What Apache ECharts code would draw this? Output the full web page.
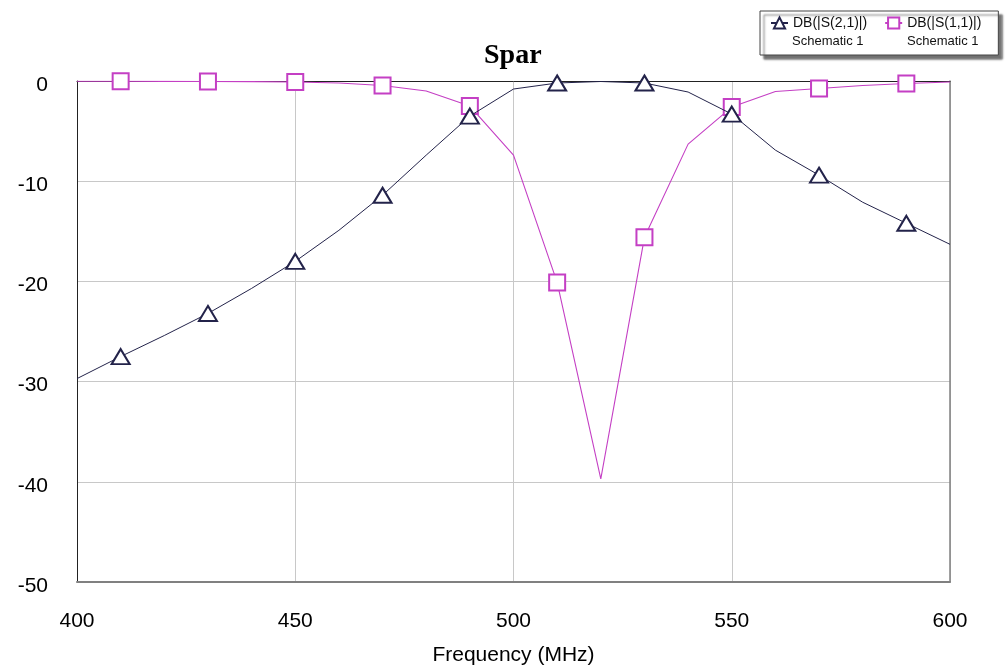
<!DOCTYPE html>
<html>
<head>
<meta charset="utf-8">
<script src="https://cdn.jsdelivr.net/npm/echarts@6/dist/echarts.min.js"></script>
<style>
html,body{margin:0;padding:0;background:#fff;}
#chart{width:1005px;height:672px;}
</style>
</head>
<body>
<div id="chart"></div>
<script>
// Frequency points (MHz)
var freq = [400, 410, 420, 430, 440, 450, 460, 470, 480, 490, 500, 510, 520, 530, 540, 550, 560, 570, 580, 590, 600];
// DB(|S(2,1)|)
var s21 = [-29.7, -27.5, -25.4, -23.2, -20.7, -18.0, -14.9, -11.4, -7.4, -3.5, -0.8, -0.2, -0.05, -0.2, -1.1, -3.3, -6.9, -9.4, -12.1, -14.2, -16.3];
// DB(|S(1,1)|)
var s11 = [-0.02, -0.03, -0.04, -0.05, -0.06, -0.1, -0.2, -0.45, -1.0, -2.5, -7.4, -20.1, -39.7, -15.6, -6.3, -2.6, -1.05, -0.75, -0.45, -0.25, -0.1];
// Frequencies that carry a marker
var markerFreq = [410, 430, 450, 470, 490, 510, 530, 550, 570, 590];
var seriesNames = ['DB(|S(2,1)|)', 'DB(|S(1,1)|)'];
var seriesSub = ['Schematic 1', 'Schematic 1'];
var xTicks = [400, 450, 500, 550, 600];
var yTicks = [0, -10, -20, -30, -40, -50];

var C21 = '#23234a';
var C11 = '#c43fc4';
var FONT = '"Liberation Sans", Arial, sans-serif';

function build(vals, sym) {
  return freq.map(function (f, i) {
    return { value: [f, vals[i]], symbol: markerFreq.indexOf(f) >= 0 ? sym : 'none' };
  });
}

var chart = echarts.init(document.getElementById('chart'), null, { renderer: 'canvas' });
var option = {
  backgroundColor: '#ffffff',
  animation: false,
  title: {
    text: 'Spar',
    left: 484, top: 42, padding: 0,
    textStyle: { fontFamily: '"Liberation Serif", "Times New Roman", serif', fontWeight: 'bold', fontSize: 28, color: '#000' }
  },
  legend: {
    data: seriesNames,
    left: 760, top: 11,
    padding: [5, 17, 25, 10],
    itemWidth: 17, itemHeight: 14, itemGap: 17,
    backgroundColor: '#fff',
    borderColor: '#444', borderWidth: 1,
    shadowColor: 'rgba(0,0,0,0.55)', shadowBlur: 2, shadowOffsetX: 4, shadowOffsetY: 4,
    textStyle: { fontFamily: FONT, fontSize: 14, color: '#111' }
  },
  graphic: [
    { type: 'text', left: 792, top: 35, z: 100, style: { text: seriesSub[0], font: '13px ' + FONT, fill: '#111' } },
    { type: 'text', left: 907, top: 35, z: 100, style: { text: seriesSub[1], font: '13px ' + FONT, fill: '#111' } }
  ],
  grid: { left: 77, right: 55, top: 81, bottom: 90, containLabel: false },
  xAxis: [{
    type: 'value', min: xTicks[0], max: xTicks[xTicks.length - 1], interval: 50,
    name: 'Frequency (MHz)', nameLocation: 'middle', nameGap: 63,
    nameTextStyle: { fontFamily: FONT, fontSize: 21, color: '#000' },
    axisLine: { show: true, onZero: false, lineStyle: { color: '#808080', width: 2 } },
    axisTick: { show: false },
    axisLabel: { fontFamily: FONT, fontSize: 21, color: '#000', margin: 29 },
    splitLine: { show: true, lineStyle: { color: '#c8c8c8', width: 1 } }
  }, {
    type: 'value', position: 'top', min: xTicks[0], max: xTicks[xTicks.length - 1], interval: 50,
    axisLine: { show: true, onZero: false, lineStyle: { color: '#222', width: 1 } },
    axisTick: { show: false }, axisLabel: { show: false }, splitLine: { show: false }
  }],
  yAxis: [{
    type: 'value', min: yTicks[yTicks.length - 1], max: yTicks[0], interval: 10,
    axisLine: { show: true, onZero: false, lineStyle: { color: '#222', width: 1 } },
    axisTick: { show: false },
    axisLabel: { fontFamily: FONT, fontSize: 21, color: '#000', margin: 29, verticalAlign: 'top', lineHeight: 8 },
    splitLine: { show: true, lineStyle: { color: '#c8c8c8', width: 1 } }
  }, {
    type: 'value', position: 'right', min: yTicks[yTicks.length - 1], max: yTicks[0], interval: 10,
    axisLine: { show: true, onZero: false, lineStyle: { color: '#808080', width: 1.5 } },
    axisTick: { show: false }, axisLabel: { show: false }, splitLine: { show: false }
  }],
  series: [{
    name: seriesNames[1], type: 'line', data: build(s11, 'emptyRect'),
    symbol: 'emptyRect', symbolSize: 16, showAllSymbol: true,
    lineStyle: { color: C11, width: 1.1 },
    itemStyle: { color: C11, borderColor: C11, borderWidth: 1 },
    z: 2
  }, {
    name: seriesNames[0], type: 'line', data: build(s21, 'emptyTriangle'),
    symbol: 'emptyTriangle', symbolSize: [18, 15], showAllSymbol: true,
    lineStyle: { color: C21, width: 1 },
    itemStyle: { color: C21, borderColor: C21, borderWidth: 0.9 },
    z: 3
  }]
};
chart.setOption(option);
</script>
</body>
</html>
